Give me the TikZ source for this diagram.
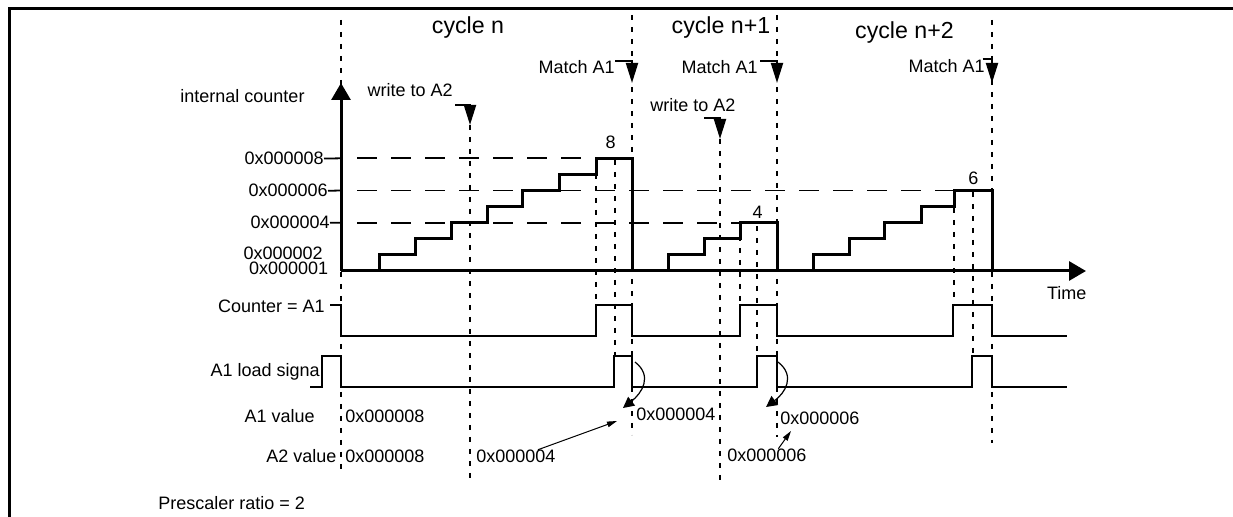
\documentclass[tikz,border=0pt]{standalone}
\usepackage{fontspec}
\setmainfont{Liberation Sans}
\usetikzlibrary{arrows.meta}
\tikzset{
  frm/.style={line width=1.5pt},
  axis/.style={line width=1.5pt,-{Triangle[length=8.5pt,width=9.5pt]}},
  stair/.style={line width=1.5pt},
  sig/.style={line width=1.1pt},
  lvl/.style={line width=0.9pt,dash pattern=on 10pt off 7pt},
  vdash/.style={line width=1pt,dash pattern=on 2.5pt off 3.5pt},
  tck/.style={line width=0.9pt},
  ev/.style={line width=1pt,-{Triangle[length=10pt,width=6pt]}},
  hook/.style={line width=0.6pt,-{Triangle[length=5.5pt,width=5.5pt]}},
  note/.style={line width=0.5pt,-{Triangle[length=5pt,width=2.8pt]}},
  lbl/.style={inner sep=0pt,font=\fontsize{9}{11}\selectfont},
  cyc/.style={inner sep=0pt,font=\fontsize{11.6}{13}\selectfont}
}

\begin{document}
\begin{tikzpicture}[x=0.5pt,y=-0.5pt]
\useasboundingbox (0,0) rectangle (1233,517);
\draw[frm] (9,517) -- (9,9) -- (1233,9);

% time marks
\draw[vdash] (341,20) -- (341,472);
\draw[vdash] (470,125) -- (470,480);
\draw[vdash] (632,15) -- (632,435);
\draw[vdash] (720,139) -- (720,485);
\draw[vdash] (777,15) -- (777,437);
\draw[vdash] (992,20) -- (992,443);
\draw[vdash] (596,174) -- (596,305);
\draw[vdash] (615,160) -- (615,356);
\draw[vdash] (740,224) -- (740,305);
\draw[vdash] (757,226) -- (757,356);
\draw[vdash] (954,208) -- (954,305);
\draw[vdash] (973,192) -- (973,356);

% compare levels
\draw[lvl] (357,158.3) -- (596,158.3);
\draw[lvl] (357,190.5) -- (954,190.5);
\draw[lvl] (357,222.7) -- (740,222.7);

% counter axis
\node[cyc,anchor=base] (cn) at (468,34) {cycle n};
\node[cyc,anchor=base] (cn1) at (721,34) {cycle n+1};
\node[cyc,anchor=base] (cn2) at (904.5,38.5) {cycle n+2};
\node[lbl,anchor=base] (ic) at (242.5,103) {internal counter};
\node[lbl,anchor=base east] (v8) at (324,164.8) {0x000008};
\node[lbl,anchor=base east] (v6) at (328,197) {0x000006};
\node[lbl,anchor=base east] (v4) at (330,229) {0x000004};
\node[lbl,anchor=base east] (v2) at (323,260) {0x000002};
\node[lbl,anchor=base east] (v1) at (328.5,275) {0x000001};
\draw[tck] (v8.east) -- (341,158.3);
\draw[tck] (v6.east) -- (341,190.5);
\draw[tck] (v4.east) -- (341,222.7);
\draw[axis] (341,271) -- (341,83);
\draw[axis] (341,271) -- (1086,271);
\node[lbl,anchor=base] (time) at (1066.7,299.3) {Time};

% counter values
\draw[stair] (341,271) -- (379,271) -- (379,254.9) -- (415.7,254.9) -- (415.7,238.8)
  -- (451,238.8) -- (451,222.7) -- (487,222.7) -- (487,206.6) -- (522,206.6)
  -- (522,190.5) -- (559,190.5) -- (559,174.4) -- (596,174.4) -- (596,158.3)
  -- (632,158.3) -- (632,271);
\draw[stair] (632,271) -- (668,271) -- (668,254.9) -- (704,254.9) -- (704,238.8)
  -- (740,238.8) -- (740,222.7) -- (777,222.7) -- (777,271);
\draw[stair] (777,271) -- (813,271) -- (813,254.9) -- (849,254.9) -- (849,238.8)
  -- (884,238.8) -- (884,222.7) -- (921,222.7) -- (921,206.6) -- (954,206.6)
  -- (954,190.5) -- (992,190.5) -- (992,271);
\node[lbl,anchor=base] (t8) at (610.7,148.3) {8};
\node[lbl,anchor=base] (t4) at (757.7,218.3) {4};
\node[lbl,anchor=base] (t6) at (973.3,184.3) {6};

% events
\node[lbl,anchor=base east] (m1) at (615,74) {Match A1};
\node[lbl,anchor=base east] (m2) at (758,74) {Match A1};
\node[lbl,anchor=base east] (m3) at (985,72.7) {Match A1};
\coordinate (m1e) at (632,83);
\coordinate (m2e) at (777,83);
\coordinate (m3e) at (992,83);
\draw[ev] (m1.north east) -| (m1e);
\draw[ev] ([xshift=1pt]m2.north east) -| (m2e);
\draw[ev] ([xshift=-1.2pt]m3.north east) -| (m3e);
\node[lbl,anchor=base east] (w1) at (453,97) {write to A2};
\node[lbl,anchor=base west] (w2) at (650,112) {write to A2};
\coordinate (w1e) at (470,125);
\coordinate (w2s) at (704,118);
\coordinate (w2e) at (720,139);
\draw[ev] ([shift={(1pt,-4pt)}]w1.base east) -| (w1e);
\draw[ev] (w2s) -| (w2e);

% signals
\node[lbl,anchor=base east] (ca1) at (325,312.7) {Counter = A1};
\draw[sig] (330,305) -- (341,305) -- (341,336) -- (596,336) -- (596,305) -- (632,305)
  -- (632,336) -- (740,336) -- (740,305) -- (777,305) -- (777,336) -- (953,336)
  -- (953,305) -- (992,305) -- (992,336) -- (1067,336);
\node[lbl,anchor=base east] (ld) at (320,376.7) {A1 load signa};
\draw[sig] (310,387) -- (322,387) -- (322,356) -- (341,356) -- (341,387) -- (614,387)
  -- (614,356) -- (632,356) -- (632,387) -- (757,387) -- (757,356) -- (777,356)
  -- (777,387) -- (972,387) -- (972,356) -- (992,356) -- (992,387) -- (1067,387);

% register values
\node[lbl,anchor=base east] (a1l) at (315,423) {A1 value};
\node[lbl,anchor=base east] (a2l) at (336.7,462.7) {A2 value};
\node[lbl,anchor=base west] (a1v8) at (345,423) {0x000008};
\node[lbl,anchor=base west] (a2v8) at (345,462.7) {0x000008};
\node[lbl,anchor=base west] (a2v4) at (476,462.7) {0x000004};
\node[lbl,anchor=base west] (a1v4) at (636,420.7) {0x000004};
\node[lbl,anchor=base west] (a1v6) at (780,425) {0x000006};
\node[lbl,anchor=base west] (a2v6) at (727,461.7) {0x000006};
\coordinate (h1s) at (635,362);
\coordinate (h1e) at (623,408);
\coordinate (h2s) at (778,362);
\coordinate (h2e) at (766,407);
\draw[hook] (h1s) .. controls (653,376) and (642,393) .. (h1e);
\draw[hook] (h2s) .. controls (796,376) and (785,393) .. (h2e);
\coordinate (n1e) at (617,421);
\coordinate (n2e) at (791,431);
\draw[note] ([xshift=11pt]a2v4.north) -- (n1e);
\draw[note] ([xshift=5.7pt]a2v6.north) -- (n2e);

\node[lbl,anchor=base west] (ps) at (158,510) {Prescaler ratio = 2};
\end{tikzpicture}
\end{document}
